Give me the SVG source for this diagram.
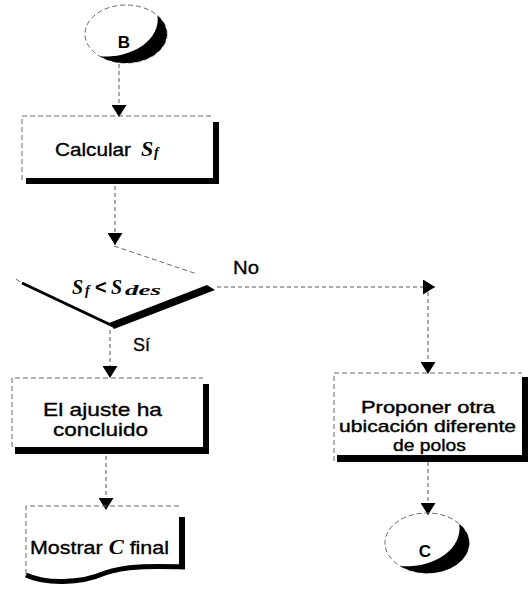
<svg xmlns="http://www.w3.org/2000/svg" width="528" height="589" viewBox="0 0 528 589">
<defs>
<marker id="ah" markerWidth="12" markerHeight="15" refX="12" refY="7.5" orient="auto" markerUnits="userSpaceOnUse"><path d="M0,0 L12,7.5 L0,15 Z" fill="#000"/></marker>
</defs>
<style>
.t{font-family:"Liberation Sans",Arial,sans-serif;font-size:19px;fill:#000;stroke:#000;stroke-width:0.35;}
.tp{font-family:"Liberation Sans",Arial,sans-serif;font-size:17px;fill:#000;stroke:#000;stroke-width:0.4;}
.m{font-family:"Liberation Serif","Times New Roman",serif;font-weight:bold;font-style:italic;fill:#000;}
.faint{fill:none;stroke:#666;stroke-width:1;stroke-dasharray:5 3;}
.conn{fill:none;stroke:#555;stroke-width:1;stroke-dasharray:4 3;}
.sh{fill:#000;}
.lbl{font-family:"Liberation Sans",Arial,sans-serif;font-size:18px;fill:#000;stroke:#000;stroke-width:0.3;}
.cl{font-family:"Liberation Sans",Arial,sans-serif;font-size:17px;font-weight:bold;fill:#000;}
</style>
<g id="connectors">
<path class="conn" d="M119,64 V117" marker-end="url(#ah)"/>
<path class="conn" d="M115,186 V245" marker-end="url(#ah)"/>
<path class="conn" d="M110,330 V378" marker-end="url(#ah)"/>
<path class="conn" d="M106,456 V510" marker-end="url(#ah)"/>
<path class="conn" d="M217,287 H435" marker-end="url(#ah)"/>
<path class="conn" d="M428,292 V374" marker-end="url(#ah)"/>
<path class="conn" d="M428,462 V515" marker-end="url(#ah)"/>
<text class="lbl" x="233" y="274" textLength="26" lengthAdjust="spacingAndGlyphs">No</text>
<text class="lbl" x="133" y="351">Sí</text>
</g>
<g id="nodeB">
<ellipse class="faint" cx="126" cy="34" rx="41" ry="29"/>
<path class="sh" d="M157.4,15.4 A41 29 0 0 1 99.6,56.2 A52 37 0 0 0 157.4,15.4 Z"/>
<text class="cl" x="124" y="48" text-anchor="middle">B</text>
</g>
<g id="calcular">
<path class="faint" d="M22,180 V116 H213"/>
<rect class="sh" x="213" y="122" width="6" height="62"/>
<rect class="sh" x="26" y="178" width="193" height="6"/>
<text class="t" x="55" y="156" textLength="76" lengthAdjust="spacingAndGlyphs">Calcular</text>
<text class="m" x="141" y="156" font-size="22">S</text>
<text class="m" x="154" y="157" font-size="14">f</text>
</g>
<g id="decision">
<path class="faint" d="M114,246 L197,274"/>
<path class="faint" d="M16,279 L23,284"/>
<path d="M22,283 L113,326" stroke="#000" stroke-width="3" fill="none"/>
<polygon class="sh" points="109,323 207,285 215,290 114,329"/>
<text class="m" x="72" y="294" font-size="20">S</text>
<text class="m" x="85" y="295" font-size="14">f</text>
<text x="95" y="294" font-size="20" font-family="Liberation Sans, Arial, sans-serif" font-weight="bold">&lt;</text>
<text class="m" x="111" y="294" font-size="20">S</text>
<text class="m" x="125" y="295" font-size="15" textLength="36" lengthAdjust="spacingAndGlyphs">des</text>
</g>
<g id="ajuste">
<path class="faint" d="M12,447 V378 H203"/>
<rect class="sh" x="203" y="384" width="6" height="70"/>
<rect class="sh" x="15" y="447" width="194" height="7"/>
<text class="t" x="43" y="416" textLength="119" lengthAdjust="spacingAndGlyphs">El ajuste  ha</text>
<text class="t" x="53" y="436" textLength="95" lengthAdjust="spacingAndGlyphs">concluido</text>
</g>
<g id="proponer">
<path class="faint" d="M334,461 V373 H522"/>
<rect class="sh" x="522" y="377" width="6" height="85"/>
<rect class="sh" x="337" y="455" width="191" height="7"/>
<text class="tp" x="361" y="413" textLength="134" lengthAdjust="spacingAndGlyphs">Proponer otra</text>
<text class="tp" x="339" y="432" textLength="177" lengthAdjust="spacingAndGlyphs">ubicación diferente</text>
<text class="tp" x="393" y="451" textLength="73" lengthAdjust="spacingAndGlyphs">de polos</text>
</g>
<g id="mostrar">
<path class="faint" d="M26,574 V506 H180"/>
<rect class="sh" x="179" y="517" width="6" height="52"/>
<path d="M26,575 C45,584 80,584 105,573 C125,566 150,566 185,567" stroke="#000" stroke-width="5" fill="none"/>
<text class="t" x="30" y="554" textLength="139" lengthAdjust="spacingAndGlyphs">Mostrar <tspan class="m" font-size="20" stroke-width="0">C</tspan> final</text>
</g>
<g id="nodeC">
<ellipse class="faint" cx="427" cy="543" rx="42" ry="30"/>
<path class="sh" d="M459.2,523.7 A42 30 0 0 1 400,566 A53 38 0 0 0 459.2,523.7 Z"/>
<text class="cl" x="425" y="557" text-anchor="middle">C</text>
</g>
</svg>
